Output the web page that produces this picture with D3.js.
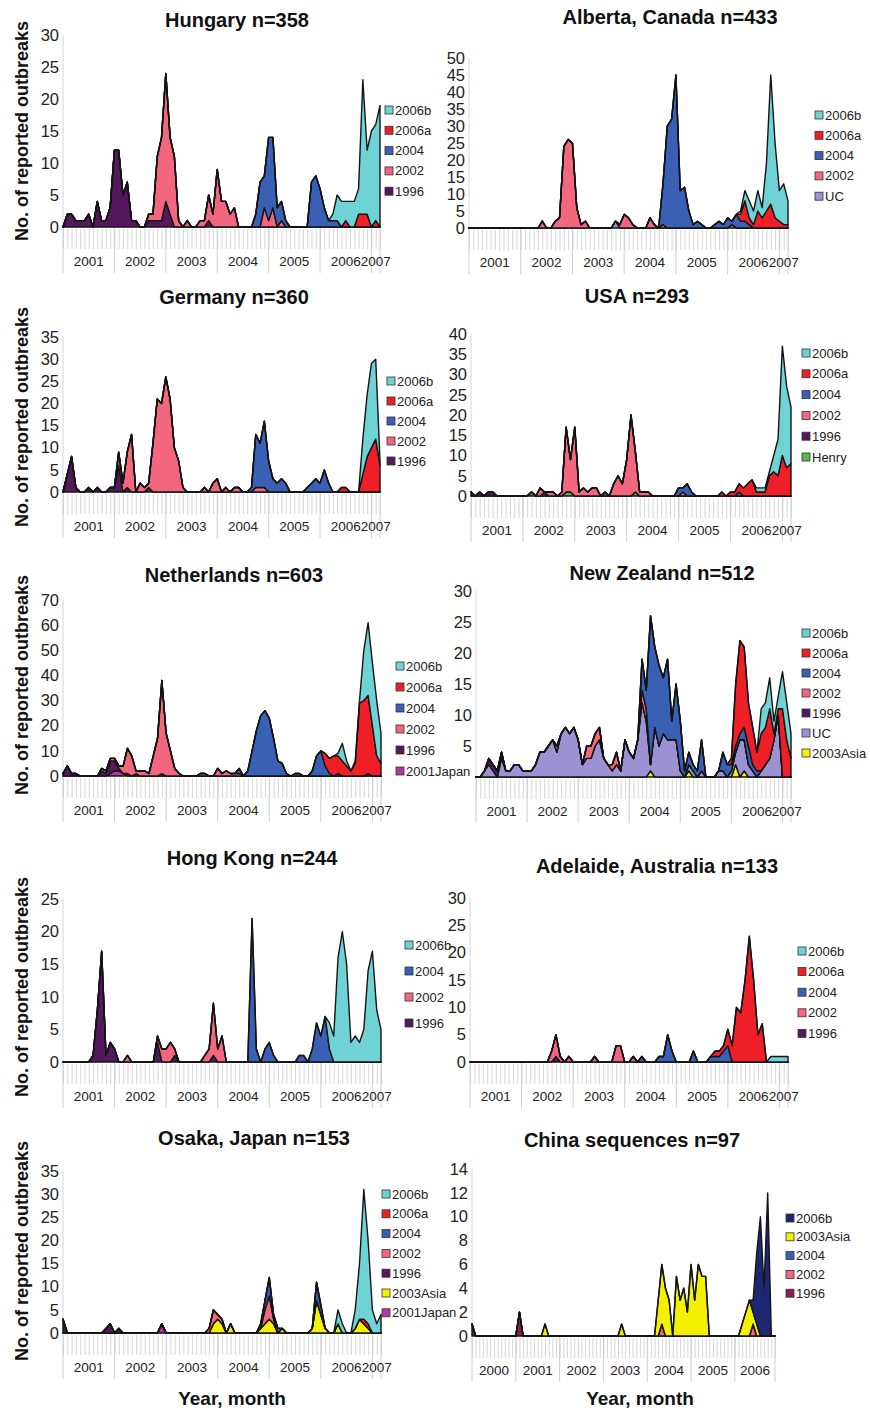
<!DOCTYPE html>
<html>
<head>
<meta charset="utf-8">
<script src="https://cdn.jsdelivr.net/npm/d3@7"></script>
<style>
  body { margin: 0; background: #fff; }
  svg { display: block; font-family: "Liberation Sans", Arial, sans-serif; }
</style>
</head>
<body>
<svg id="fig"></svg>
<script>
// monthly counts, Jan 2001 .. Mar 2007 (75 months); China: Jan 2000 .. Dec 2006 (84 months)
const years01 = ["2001", "2002", "2003", "2004", "2005", "2006", "2007"];
const years00 = ["2000", "2001", "2002", "2003", "2004", "2005", "2006"];

const palette = {
  "2006b": "#6fd3d6", "2006a": "#ee1f27", "2004": "#3a60b6", "2002": "#f2677d",
  "1996": "#55185f", "UC": "#9c92d3", "Henry": "#56b947", "2003Asia": "#f4f000",
  "2001Japan": "#b2379f"
};

// ---- Hungary
const hu1996 = [0,2,2,1,1,1,2,0,4,1,1,3, 12,12,5,7,1,1,0,0,1,1,1,1, 4,2,0,0,0,0,0,0,0,0,1,0,
  0,0,0,0,0,0,0,0,0,0,0,0, 0,0,0,0,0,0,0,0,0,0,0,0, 0,0,0,0,0,0,0,0,0,0,0,0, 0,0,0];
const hu2002 = [0,0,0,0,0,0,0,0,0,0,0,0, 0,0,0,0,0,0,0,0,1,1,10,13, 20,12,11,1,0,1,0,0,1,1,4,2,
  9,4,4,2,3,0,0,0,0,0,0,3, 1,3,0,1,0,0,0,0,0,0,0,0, 0,0,0,0,0,0,0,0,0,0,0,0, 0,0,0];
const hu2004 = [0,0,0,0,0,0,0,0,0,0,0,0, 0,0,0,0,0,0,0,0,0,0,0,0, 0,0,0,0,0,0,0,0,0,0,0,0,
  0,0,0,0,0,0,0,0,0,2,7,5, 13,11,3,3,1,0,0,0,0,0,7,8, 6,3,1,1,1,0,0,0,0,0,0,0, 0,0,0];
const hu2006a = [0,0,0,0,0,0,0,0,0,0,0,0, 0,0,0,0,0,0,0,0,0,0,0,0, 0,0,0,0,0,0,0,0,0,0,0,0,
  0,0,0,0,0,0,0,0,0,0,0,0, 0,0,0,0,0,0,0,0,0,0,0,0, 0,0,0,0,0,0,1,0,0,2,2,2, 0,1,0];
const hu2006b = [0,0,0,0,0,0,0,0,0,0,0,0, 0,0,0,0,0,0,0,0,0,0,0,0, 0,0,0,0,0,0,0,0,0,0,0,0,
  0,0,0,0,0,0,0,0,0,0,0,0, 0,0,0,0,0,0,0,0,0,0,0,0, 0,0,0,1,4,4,3,4,4,4,21,10, 15,15,19];

// ---- Alberta, Canada
const abUC = [0,0,0,0,0,0,0,0,0,0,0,0, 0,0,0,0,0,0,0,0,0,0,0,0, 0,0,0,0,0,0,0,0,0,0,2,0,
  0,0,0,0,0,0,0,0,0,0,0,0, 0,0,0,0,0,0,0,0,0,0,0,0, 0,1,0,0,0,0,0,0,0,0,0,0, 0,0,0];
const ab2002 = [0,0,0,0,0,0,0,0,0,0,0,0, 0,0,0,0,0,2,0,0,2,3,24,26, 25,6,1,2,0,0,0,0,0,0,0,1,
  4,3,1,0,0,0,3,1,0,1,0,0, 0,0,0,0,0,0,0,0,0,0,0,0, 0,0,0,0,0,0,0,0,0,0,0,0, 0,0,0];
const ab2004 = [0,0,0,0,0,0,0,0,0,0,0,0, 0,0,0,0,0,0,0,0,0,0,0,0, 0,0,0,0,0,0,0,0,0,0,0,0,
  0,0,0,0,0,0,0,0,0,12,30,32, 45,11,12,5,1,2,1,0,0,1,2,1, 3,1,4,2,2,1,0,0,0,0,0,0, 0,0,0];
const ab2006a = [0,0,0,0,0,0,0,0,0,0,0,0, 0,0,0,0,0,0,0,0,0,0,0,0, 0,0,0,0,0,0,0,0,0,0,0,0,
  0,0,0,0,0,0,0,0,0,0,0,0, 0,0,0,0,0,0,0,0,0,0,0,0, 0,0,0,2,6,2,1,5,3,5,7,3, 2,1,1];
const ab2006b = [0,0,0,0,0,0,0,0,0,0,0,0, 0,0,0,0,0,0,0,0,0,0,0,0, 0,0,0,0,0,0,0,0,0,0,0,0,
  0,0,0,0,0,0,0,0,0,0,0,0, 0,0,0,0,0,0,0,0,0,0,0,0, 0,0,0,1,3,5,4,6,3,14,38,22, 9,12,7];

// ---- Germany
const de1996 = [0,4,8,1,0,0,1,0,1,0,0,1, 1,6,0,1,0,0,0,0,1,0,0,0, 0,0,0,0,0,0,0,0,0,0,0,0,
  0,0,0,0,0,0,0,0,0,0,0,0, 0,0,0,0,0,0,0,0,0,0,0,0, 0,0,0,0,0,0,0,0,0,0,0,0, 0,0,0];
const de2002 = [0,0,0,0,0,0,0,0,0,0,0,0, 0,3,2,8,13,0,2,1,1,11,21,20, 26,21,10,7,1,0,0,0,0,1,0,2,
  3,0,1,0,1,1,0,0,0,1,1,1, 0,0,0,0,0,0,0,0,0,0,0,0, 0,0,0,0,0,0,0,0,0,0,0,0, 0,0,0];
const de2004 = [0,0,0,0,0,0,0,0,0,0,0,0, 0,0,0,0,0,0,0,0,0,0,0,0, 0,0,0,0,0,0,0,0,0,0,0,0,
  0,0,0,0,0,0,0,0,1,12,10,15, 7,3,2,3,2,0,0,0,0,1,2,3, 2,5,2,0,0,0,0,0,0,0,0,0, 0,0,0];
const de2006a = [0,0,0,0,0,0,0,0,0,0,0,0, 0,0,0,0,0,0,0,0,0,0,0,0, 0,0,0,0,0,0,0,0,0,0,0,0,
  0,0,0,0,0,0,0,0,0,0,0,0, 0,0,0,0,0,0,0,0,0,0,0,0, 0,0,0,0,0,1,1,0,0,0,4,8, 10,12,6];
const de2006b = [0,0,0,0,0,0,0,0,0,0,0,0, 0,0,0,0,0,0,0,0,0,0,0,0, 0,0,0,0,0,0,0,0,0,0,0,0,
  0,0,0,0,0,0,0,0,0,0,0,0, 0,0,0,0,0,0,0,0,0,0,0,0, 0,0,0,0,0,0,0,0,0,0,8,14, 19,18,1];

// ---- USA
const usHenry = [0,0,0,0,0,0,0,0,0,0,0,0, 0,0,1,0,0,0,0,0,0,0,1,1, 0,0,0,0,0,0,0,0,0,0,0,0,
  0,0,1,0,0,0,0,0,0,0,0,0, 0,0,0,0,0,0,0,0,0,0,0,0, 0,0,0,0,0,0,0,0,0,0,0,0, 0,0,0];
const us1996 = [1,0,1,0,1,1,0,0,0,0,0,0, 0,0,0,0,0,1,0,0,0,0,0,0, 0,0,0,0,0,0,0,0,0,0,0,0,
  0,0,0,0,0,0,0,0,0,0,0,0, 0,0,0,0,0,0,0,0,0,0,0,0, 0,0,0,0,0,0,0,0,0,0,0,0, 0,0,0];
const us2002 = [0,0,0,0,0,0,0,0,0,0,0,0, 0,0,0,0,2,0,1,1,0,1,16,8, 17,1,2,1,2,2,0,0,0,3,5,3,
  9,20,10,1,1,1,0,0,0,0,0,0, 0,1,0,0,0,0,0,0,0,0,0,0, 0,0,0,0,0,0,0,0,0,0,0,0, 0,0,0];
const us2004 = [0,0,0,0,0,0,0,0,0,0,0,0, 0,0,0,0,0,0,0,0,0,0,0,0, 0,0,0,0,0,0,0,1,0,0,0,0,
  0,0,0,0,0,0,0,0,0,0,0,0, 2,1,3,1,0,0,0,0,0,0,0,0, 0,0,1,0,0,0,0,0,0,0,0,0, 0,0,0];
const us2006a = [0,0,0,0,0,0,0,0,0,0,0,0, 0,0,0,0,0,0,0,0,0,0,0,0, 0,0,0,0,0,0,0,0,0,0,0,0,
  0,0,0,0,0,0,0,0,0,0,0,0, 0,0,0,0,0,0,0,0,0,0,1,0, 1,1,2,2,3,4,1,1,1,5,6,5, 10,7,8];
const us2006b = [0,0,0,0,0,0,0,0,0,0,0,0, 0,0,0,0,0,0,0,0,0,0,0,0, 0,0,0,0,0,0,0,0,0,0,0,0,
  0,0,0,0,0,0,0,0,0,0,0,0, 0,0,0,0,0,0,0,0,0,0,0,0, 0,0,0,0,0,0,1,1,1,1,4,9, 27,20,14];

// ---- Netherlands
const nlJapan = [0,0,0,0,0,0,0,0,0,0,0,1, 2,2,1,0,0,0,0,0,0,0,0,0, 0,0,0,0,0,0,0,0,0,0,0,0,
  0,0,0,0,0,0,0,0,0,0,0,0, 0,0,0,0,0,0,0,0,0,0,0,0, 0,0,0,0,0,0,0,0,0,0,0,0, 0,0,0];
const nl1996 = [1,4,1,1,0,0,0,0,0,2,1,5, 4,1,0,1,0,1,0,0,0,0,0,1, 0,0,0,0,0,0,0,0,0,0,0,0,
  0,0,0,0,0,0,0,0,0,0,0,0, 0,0,0,0,0,0,0,0,0,0,0,0, 0,0,0,0,0,0,0,0,0,0,0,1, 0,0,0];
const nl2002 = [0,0,0,0,0,0,0,0,0,1,1,1, 1,1,3,10,8,1,2,2,1,8,15,37, 17,10,3,1,0,0,0,0,1,1,0,0,
  3,1,2,1,1,1,0,0,0,0,0,0, 0,0,0,0,0,0,0,0,0,0,0,0, 0,0,0,0,0,0,0,0,0,0,0,0, 0,0,0];
const nl2004 = [0,0,0,0,0,0,0,0,0,0,0,0, 0,0,0,0,0,0,0,0,0,0,0,0, 0,0,0,0,0,0,0,0,0,0,0,0,
  0,0,0,0,0,2,0,2,10,18,24,26, 23,15,6,5,1,0,1,1,0,0,2,8, 10,4,1,0,1,0,0,0,0,0,0,0, 0,0,0];
const nl2006a = [0,0,0,0,0,0,0,0,0,0,0,0, 0,0,0,0,0,0,0,0,0,0,0,0, 0,0,0,0,0,0,0,0,0,0,0,0,
  0,0,0,0,0,0,0,0,0,0,0,0, 0,0,0,0,0,0,0,0,0,0,0,0, 0,5,6,8,7,6,4,2,5,29,30,31, 20,8,5];
const nl2006b = [0,0,0,0,0,0,0,0,0,0,0,0, 0,0,0,0,0,0,0,0,0,0,0,0, 0,0,0,0,0,0,0,0,0,0,0,0,
  0,0,0,0,0,0,0,0,0,0,0,0, 0,0,0,0,0,0,0,0,0,0,0,0, 0,0,0,0,1,7,2,0,1,1,20,29, 25,22,12];

// ---- New Zealand
const nzAsia = [0,0,0,0,0,0,0,0,0,0,0,0, 0,0,0,0,0,0,0,0,0,0,0,0, 0,0,0,0,0,0,0,0,0,0,0,0,
  0,0,0,0,0,1,0,0,0,0,0,0, 0,0,1,0,0,0,0,0,0,0,0,0, 0,2,0,1,0,0,0,0,0,0,0,0, 0,0,0];
const nzUC = [0,0,1,2,1,0,3,1,1,2,2,1, 1,1,2,4,4,5,6,4,7,8,7,8, 6,2,3,3,5,6,3,2,1,2,1,6,
  4,3,6,12,9,1,8,5,7,6,6,6, 1,0,1,1,0,1,0,0,0,1,1,0, 1,2,6,5,2,1,0,1,2,3,6,10, 0,0,0];
const nz1996 = [0,0,0,1,1,1,1,0,0,0,0,0, 0,0,0,0,0,0,0,0,0,0,0,0, 0,0,0,0,0,0,0,0,0,0,0,0,
  0,0,0,0,0,0,0,0,0,0,0,0, 0,0,0,0,0,0,0,0,0,0,0,0, 0,0,0,0,0,0,0,0,0,0,0,0, 0,0,0];
const nz2002 = [0,0,0,0,0,0,0,0,0,0,0,0, 0,0,0,0,0,0,0,1,0,0,0,0, 0,0,2,2,2,2,0,0,1,2,0,0,
  0,0,0,2,2,0,0,0,0,0,0,0, 0,0,0,0,0,0,0,0,0,0,0,0, 0,0,0,0,0,0,0,0,0,0,0,0, 0,0,0];
const nz2004 = [0,0,0,0,0,0,0,0,0,0,0,0, 0,0,0,0,0,0,0,0,0,0,0,0, 0,0,0,0,0,0,0,0,0,0,0,0,
  0,0,0,5,3,24,13,13,9,13,3,9, 8,1,2,1,1,5,0,0,0,0,3,2, 1,1,1,2,3,1,1,0,0,0,0,0, 0,0,0];
const nz2006a = [0,0,0,0,0,0,0,0,0,0,0,0, 0,0,0,0,0,0,0,0,0,0,0,0, 0,0,0,0,0,0,0,0,0,0,0,0,
  0,0,0,0,0,0,0,0,0,0,0,0, 0,0,0,0,0,0,0,0,0,0,0,0, 1,10,15,13,7,6,3,6,6,8,1,1, 11,6,3];
const nz2006b = [0,0,0,0,0,0,0,0,0,0,0,0, 0,0,0,0,0,0,0,0,0,0,0,0, 0,0,0,0,0,0,0,0,0,0,0,0,
  0,0,0,0,0,0,0,0,0,0,0,0, 0,0,0,0,0,0,0,0,0,0,0,0, 0,0,0,0,0,0,0,4,4,5,2,2, 6,6,4];

// ---- Hong Kong
const hk1996 = [0,0,0,0,0,0,0,1,8,17,1,3, 2,0,0,0,0,0,0,0,0,0,3,0, 0,0,1,0,0,0,0,0,0,0,0,1,
  0,0,0,0,0,0,0,0,0,0,0,0, 0,0,0,0,0,0,0,0,0,0,0,0, 0,0,0,0,0,0,0,0,0,0,0,0, 0,0,0];
const hk2002 = [0,0,0,0,0,0,0,0,0,0,0,0, 0,0,0,1,0,0,0,0,0,0,1,2, 2,3,1,0,0,0,0,0,0,1,2,8,
  2,4,0,0,0,0,0,0,0,0,0,0, 0,0,0,0,0,0,0,0,0,0,0,0, 0,0,0,0,0,0,0,0,0,0,0,0, 0,0,0];
const hk2004 = [0,0,0,0,0,0,0,0,0,0,0,0, 0,0,0,0,0,0,0,0,0,0,0,0, 0,0,0,0,0,0,0,0,0,0,0,0,
  0,0,0,0,0,0,0,0,22,2,0,2, 3,1,0,0,0,0,0,1,1,0,2,6, 4,7,2,0,0,0,0,0,0,0,0,0, 0,0,0];
const hk2006b = [0,0,0,0,0,0,0,0,0,0,0,0, 0,0,0,0,0,0,0,0,0,0,0,0, 0,0,0,0,0,0,0,0,0,0,0,0,
  0,0,0,0,0,0,0,0,0,0,0,0, 0,0,0,0,0,0,0,0,0,0,0,0, 0,0,4,4,16,20,15,3,4,3,5,14, 17,8,5];

// ---- Adelaide, Australia
const ad1996 = [0,0,0,0,0,0,0,0,0,0,0,0, 0,0,0,0,0,0,0,0,1,0,0,0, 0,0,0,0,0,0,0,0,0,0,0,0,
  0,0,0,0,0,0,0,0,0,0,0,0, 0,0,0,0,0,0,0,0,0,0,0,0, 0,0,0,0,0,0,0,0,0,0,0,0, 0,0,0];
const ad2002 = [0,0,0,0,0,0,0,0,0,0,0,0, 0,0,0,0,0,0,0,2,4,1,0,1, 0,0,0,0,0,1,0,0,0,0,3,3,
  0,0,1,0,0,0,0,0,0,0,0,0, 0,0,0,0,0,0,0,0,0,0,0,0, 0,0,0,0,0,0,0,0,0,0,0,0, 0,0,0];
const ad2004 = [0,0,0,0,0,0,0,0,0,0,0,0, 0,0,0,0,0,0,0,0,0,0,0,0, 0,0,0,0,0,0,0,0,0,0,0,0,
  0,0,0,0,1,0,0,0,1,1,5,2, 0,0,0,0,2,0,0,0,1,1,1,2, 3,0,0,0,0,0,0,0,0,0,0,0, 0,0,0];
const ad2006a = [0,0,0,0,0,0,0,0,0,0,0,0, 0,0,0,0,0,0,0,0,0,0,0,0, 0,0,0,0,0,0,0,0,0,0,0,0,
  0,0,0,0,0,0,0,0,0,0,0,0, 0,0,0,0,0,0,0,0,0,1,1,1, 3,3,10,9,15,23,15,5,7,0,0,0, 0,0,0];
const ad2006b = [0,0,0,0,0,0,0,0,0,0,0,0, 0,0,0,0,0,0,0,0,0,0,0,0, 0,0,0,0,0,0,0,0,0,0,0,0,
  0,0,0,0,0,0,0,0,0,0,0,0, 0,0,0,0,0,0,0,0,0,0,0,0, 0,0,0,0,0,0,0,0,0,0,1,1, 1,1,1];

// ---- Osaka, Japan
const osJapan = [0,0,0,0,0,0,0,0,0,0,0,0, 0,0,0,0,0,0,0,0,0,0,0,2, 0,0,0,0,0,0,0,0,0,0,0,0,
  0,0,0,0,0,0,0,0,0,0,0,0, 0,0,0,0,0,0,0,0,0,0,0,0, 0,0,0,0,0,0,0,0,0,0,0,0, 0,0,0];
const osAsia = [0,0,0,0,0,0,0,0,0,0,0,0, 0,0,0,0,0,0,0,0,0,0,0,0, 0,0,0,0,0,0,0,0,0,0,0,2,
  3,2,0,2,0,0,0,0,0,0,1,2, 3,2,0,1,0,0,0,0,0,0,1,7, 4,1,0,0,2,0,0,0,1,3,2,1, 0,0,0];
const os1996 = [3,0,0,0,0,0,0,0,0,0,1,2, 0,1,0,0,0,0,0,0,0,0,0,0, 0,0,0,0,0,0,0,0,0,0,0,0,
  0,0,0,0,0,0,0,0,0,0,0,0, 0,0,0,0,0,0,0,0,0,0,0,0, 0,0,0,0,0,0,0,0,0,0,0,0, 0,0,0];
const os2002 = [0,0,0,0,0,0,0,0,0,0,0,0, 0,0,0,0,0,0,0,0,0,0,0,0, 0,0,0,0,0,0,0,0,0,0,1,3,
  1,1,0,0,0,0,0,0,0,0,0,3, 5,1,0,0,0,0,0,0,0,0,0,0, 0,0,0,0,0,0,0,0,0,0,0,0, 0,0,0];
const os2004 = [0,0,0,0,0,0,0,0,0,0,0,0, 0,0,0,0,0,0,0,0,0,0,0,0, 0,0,0,0,0,0,0,0,0,0,0,0,
  0,0,0,0,0,0,0,0,0,0,1,2, 4,1,1,0,0,0,0,0,0,0,0,4, 2,0,0,0,0,0,0,0,0,0,0,0, 0,0,0];
const os2006a = [0,0,0,0,0,0,0,0,0,0,0,0, 0,0,0,0,0,0,0,0,0,0,0,0, 0,0,0,0,0,0,0,0,0,0,0,0,
  0,0,0,0,0,0,0,0,0,0,0,0, 0,0,0,0,0,0,0,0,0,0,0,0, 0,0,0,0,0,0,0,0,0,0,1,1, 0,0,0];
const os2006b = [0,0,0,0,0,0,0,0,0,0,0,0, 0,0,0,0,0,0,0,0,0,0,0,0, 0,0,0,0,0,0,0,0,0,0,0,0,
  0,0,0,0,0,0,0,0,0,0,0,0, 0,0,0,0,0,0,0,0,0,0,0,0, 0,0,0,0,3,2,0,0,4,12,28,18, 5,2,4];

// ---- China sequences (2000-2006)
const cn1996 = [1,0,0,0,0,0,0,0,0,0,0,0, 0,2,0,0,0,0,0,0,0,0,0,0, 0,0,0,0,0,0,0,0,0,0,0,0,
  0,0,0,0,0,0,0,0,0,0,0,0, 0,0,0,0,0,0,0,0,0,0,0,0, 0,0,0,0,0,0,0,0,0,0,0,0, 0,0,0,0,0,0,0,0,0,0,0,0];
const cn2002 = [0,0,0,0,0,0,0,0,0,0,0,0, 0,0,0,0,0,0,0,0,0,0,0,0, 0,0,0,0,0,0,0,0,0,0,0,0,
  0,0,0,0,0,0,0,0,0,0,0,0, 0,0,0,0,1,0,0,0,0,0,0,0, 0,0,0,0,0,0,0,0,0,0,0,0, 0,0,0,0,0,1,0,0,0,0,0,0];
const cn2004 = [0,0,0,0,0,0,0,0,0,0,0,0, 0,0,0,0,0,0,0,0,0,0,0,0, 0,0,0,0,0,0,0,0,0,0,0,0,
  0,0,0,0,0,0,0,0,0,0,0,0, 0,0,0,0,0,0,0,0,0,0,0,0, 0,0,0,0,0,0,0,0,0,0,0,0, 0,0,0,0,0,0,0,0,0,0,0,0];
const cnAsia = [0,0,0,0,0,0,0,0,0,0,0,0, 0,0,0,0,0,0,0,0,1,0,0,0, 0,0,0,0,0,0,0,0,0,0,0,0,
  0,0,0,0,0,1,0,0,0,0,0,0, 0,0,0,3,5,4,3,0,5,3,4,2, 6,3,6,5,5,0,0,0,0,0,0,0, 0,0,1,2,3,1,1,0,0,0,0,0];
const cn2006b = [0,0,0,0,0,0,0,0,0,0,0,0, 0,0,0,0,0,0,0,0,0,0,0,0, 0,0,0,0,0,0,0,0,0,0,0,0,
  0,0,0,0,0,0,0,0,0,0,0,0, 0,0,0,0,0,0,0,0,0,0,0,0, 0,0,0,0,0,0,0,0,0,0,0,0, 0,0,0,0,0,1,6,10,4,12,0,0];

// series listed bottom -> top of the stack
const panels = [
  { title: "Hungary n=358", years: years01,
    series: [["1996", hu1996], ["2002", hu2002], ["2004", hu2004], ["2006a", hu2006a], ["2006b", hu2006b]],
    tx: 237, ty: 20, x0: 63, x1: 380, base: 227, top: 35, ymax: 30, step: 5, lx: 385, ly: 110, ldy: 20.3 },
  { title: "Alberta, Canada n=433", years: years01,
    series: [["UC", abUC], ["2002", ab2002], ["2004", ab2004], ["2006a", ab2006a], ["2006b", ab2006b]],
    tx: 670, ty: 17, x0: 469, x1: 788, base: 228, top: 58, ymax: 50, step: 5, lx: 815, ly: 115, ldy: 20.3 },
  { title: "Germany n=360", years: years01,
    series: [["1996", de1996], ["2002", de2002], ["2004", de2004], ["2006a", de2006a], ["2006b", de2006b]],
    tx: 234, ty: 297, x0: 63, x1: 380, base: 492, top: 337, ymax: 35, step: 5, lx: 387, ly: 381, ldy: 20 },
  { title: "USA n=293", years: years01,
    series: [["Henry", usHenry], ["1996", us1996], ["2002", us2002], ["2004", us2004], ["2006a", us2006a], ["2006b", us2006b]],
    tx: 637, ty: 296, x0: 471, x1: 791, base: 496, top: 334, ymax: 40, step: 5, lx: 802, ly: 353, ldy: 20.8 },
  { title: "Netherlands n=603", years: years01,
    series: [["2001Japan", nlJapan], ["1996", nl1996], ["2002", nl2002], ["2004", nl2004], ["2006a", nl2006a], ["2006b", nl2006b]],
    tx: 234, ty: 575, x0: 63, x1: 381, base: 776, top: 600, ymax: 70, step: 10, lx: 396, ly: 666, ldy: 21 },
  { title: "New Zealand n=512", years: years01, hideZero: true,
    series: [["2003Asia", nzAsia], ["UC", nzUC], ["1996", nz1996], ["2002", nz2002], ["2004", nz2004], ["2006a", nz2006a], ["2006b", nz2006b]],
    tx: 662, ty: 573, x0: 476, x1: 791, base: 777, top: 591, ymax: 30, step: 5, lx: 802, ly: 633, ldy: 20 },
  { title: "Hong Kong n=244", years: years01,
    series: [["1996", hk1996], ["2002", hk2002], ["2004", hk2004], ["2006b", hk2006b]],
    tx: 252, ty: 858, x0: 63, x1: 381, base: 1062, top: 899, ymax: 25, step: 5, lx: 405, ly: 945, ldy: 26 },
  { title: "Adelaide, Australia n=133", years: years01,
    series: [["1996", ad1996], ["2002", ad2002], ["2004", ad2004], ["2006a", ad2006a], ["2006b", ad2006b]],
    tx: 657, ty: 866, x0: 470, x1: 788, base: 1062, top: 898, ymax: 30, step: 5, lx: 798, ly: 951, ldy: 20.6 },
  { title: "Osaka, Japan n=153", years: years01,
    series: [["2001Japan", osJapan], ["2003Asia", osAsia], ["1996", os1996], ["2002", os2002], ["2004", os2004], ["2006a", os2006a], ["2006b", os2006b]],
    tx: 254, ty: 1138, x0: 63, x1: 381, base: 1333, top: 1171, ymax: 35, step: 5, lx: 382, ly: 1194, ldy: 19.8 },
  { title: "China sequences n=97", years: years00,
    colors: { "2006b": "#1f2672", "1996": "#8a1d55" },
    series: [["1996", cn1996], ["2002", cn2002], ["2004", cn2004], ["2003Asia", cnAsia], ["2006b", cn2006b]],
    tx: 632, ty: 1140, x0: 472, x1: 775, base: 1336, top: 1169, ymax: 14, step: 2, lx: 786, ly: 1218, ldy: 18.8 }
];

const yTitles = [131, 417, 685, 987, 1251];

const svg = d3.select("#fig").attr("width", 870).attr("height", 1411);

function drawPanel(p) {
  const n = p.series[0][1].length;
  const color = k => (p.colors && p.colors[k]) || palette[k];
  const x = d3.scaleLinear().domain([0, n - 1]).range([p.x0, p.x1]);
  const y = d3.scaleLinear().domain([0, p.ymax]).range([p.base, p.top]);
  const g = svg.append("g");

  g.append("text")
    .attr("x", p.tx).attr("y", p.ty)
    .attr("text-anchor", "middle").attr("dominant-baseline", "central")
    .attr("font-weight", "bold").attr("font-size", 20).attr("fill", "#111")
    .text(p.title);

  // faint value axis
  g.append("line")
    .attr("x1", p.x0).attr("x2", p.x0).attr("y1", p.top).attr("y2", p.base)
    .attr("stroke", "#d6d6d6");

  const yAxis = d3.axisLeft(y)
    .tickValues(d3.range(0, p.ymax + p.step / 2, p.step))
    .tickSize(0).tickPadding(4)
    .tickFormat(v => (v === 0 && p.hideZero) ? "" : v);
  const ya = g.append("g").attr("transform", `translate(${p.x0},0)`).call(yAxis);
  ya.select(".domain").remove();
  ya.attr("font-family", null).attr("font-size", 16.5);
  ya.selectAll("text").attr("fill", "#222");

  // month ticks
  const xa = g.append("g").attr("transform", `translate(0,${p.base + 2})`)
    .call(d3.axisBottom(x).tickValues(d3.range(n)).tickSize(20).tickFormat(""));
  xa.select(".domain").remove();
  xa.selectAll("line").attr("stroke", "#c4c4c4").attr("stroke-width", 0.7);

  // year groups
  const bounds = p.years.map((yr, k) => [12 * k, Math.min(12 * k + 12, n - 1)]);
  const seps = bounds.map(b => b[0]).concat([n - 1]);
  g.selectAll("line.sep").data(seps).join("line")
    .attr("class", "sep")
    .attr("x1", d => x(d)).attr("x2", d => x(d))
    .attr("y1", p.base).attr("y2", p.base + 46)
    .attr("stroke", "#cfcfcf").attr("stroke-width", 1);
  g.selectAll("text.yr").data(p.years).join("text")
    .attr("class", "yr")
    .attr("x", (d, k) => x((bounds[k][0] + bounds[k][1]) / 2))
    .attr("y", p.base + 34)
    .attr("text-anchor", "middle").attr("dominant-baseline", "central")
    .attr("font-size", 13.5).attr("fill", "#222")
    .text(d => d);

  // stacked areas
  const keys = p.series.map(s => s[0]);
  const rows = d3.range(n).map(i => Object.fromEntries(p.series.map(s => [s[0], s[1][i]])));
  const stacked = d3.stack().keys(keys)(rows);
  const area = d3.area()
    .x((d, i) => x(i))
    .y0(d => y(d[0]))
    .y1(d => y(d[1]));
  g.selectAll("path.area").data(stacked).join("path")
    .attr("class", "area")
    .attr("d", area)
    .attr("fill", d => color(d.key))
    .attr("stroke", "#141414").attr("stroke-width", 1.4)
    .attr("stroke-linejoin", "round");

  // legend, top of stack first
  const leg = g.selectAll("g.leg").data(keys.slice().reverse()).join("g")
    .attr("class", "leg")
    .attr("transform", (d, k) => `translate(${p.lx},${p.ly + k * p.ldy})`);
  leg.append("rect")
    .attr("x", 0).attr("y", -4).attr("width", 8).attr("height", 8)
    .attr("fill", d => color(d)).attr("stroke", "#333").attr("stroke-width", 0.8);
  leg.append("text")
    .attr("x", 10).attr("y", 0).attr("dominant-baseline", "central")
    .attr("font-size", 13).attr("fill", "#222")
    .text(d => d);
}

panels.forEach(drawPanel);

svg.selectAll("text.ytitle").data(yTitles).join("text")
  .attr("class", "ytitle")
  .attr("transform", d => `translate(22,${d}) rotate(-90)`)
  .attr("text-anchor", "middle").attr("dominant-baseline", "central")
  .attr("font-weight", "bold").attr("font-size", 18).attr("fill", "#111")
  .text("No. of reported outbreaks");

svg.selectAll("text.xtitle").data([232, 640]).join("text")
  .attr("class", "xtitle")
  .attr("x", d => d).attr("y", 1398)
  .attr("text-anchor", "middle").attr("dominant-baseline", "central")
  .attr("font-weight", "bold").attr("font-size", 19).attr("fill", "#111")
  .text("Year, month");
</script>
</body>
</html>
